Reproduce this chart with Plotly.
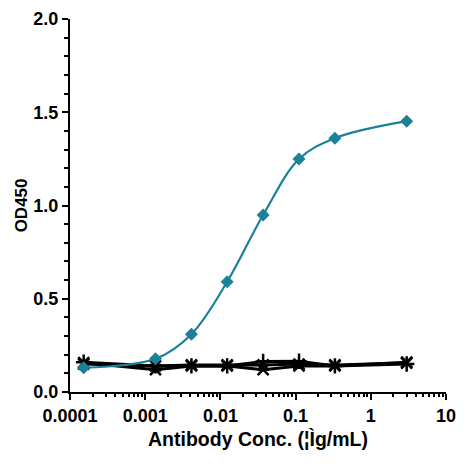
import plotly.graph_objects as go

conc = [0.000152, 0.00137, 0.00412, 0.0123, 0.037, 0.111, 0.333, 3.0]
od_target = [0.130, 0.178, 0.310, 0.591, 0.949, 1.249, 1.361, 1.452]
od_ctrl_x = [0.157, 0.120, 0.140, 0.140, 0.120, 0.140, 0.140, 0.160]
od_ctrl_plus = [0.160, 0.140, 0.140, 0.140, 0.164, 0.165, 0.140, 0.150]
od_ctrl_b = [0.150, 0.140, 0.145, 0.145, 0.145, 0.150, 0.145, 0.155]

x_tickvals = [0.0001, 0.001, 0.01, 0.1, 1, 10]
x_ticktext = ["0.0001", "0.001", "0.01", "0.1", "1", "10"]
y_tickvals = [0.0, 0.5, 1.0, 1.5, 2.0]
y_ticktext = ["0.0", "0.5", "1.0", "1.5", "2.0"]

teal = "#1A8198"
font_fam = "Liberation Sans, Arial, sans-serif"

fig = go.Figure()
for vals, sym in [(od_ctrl_b, "x-thin"), (od_ctrl_plus, "cross-thin"), (od_ctrl_x, "x-thin")]:
    fig.add_trace(go.Scatter(
        x=conc, y=vals, mode="lines+markers",
        line=dict(color="black", width=3),
        marker=dict(symbol=sym, size=11, color="black", line=dict(color="black", width=2.5)),
        showlegend=False, cliponaxis=False))

fig.add_trace(go.Scatter(
    x=conc, y=od_target, mode="lines+markers",
    line=dict(color=teal, width=2.2, shape="spline", smoothing=1.0),
    marker=dict(symbol="diamond", size=10, color=teal),
    showlegend=False, cliponaxis=False))

minor_x = [m * 10 ** k for k in range(-4, 1) for m in range(2, 10)]

fig.update_layout(
    width=466, height=474,
    margin=dict(l=62, r=28, t=11, b=90),
    paper_bgcolor="white", plot_bgcolor="white",
    font=dict(family=font_fam, color="black"),
    xaxis=dict(
        type="log", range=[-4, 1], automargin=False,
        tickmode="array", tickvals=x_tickvals, ticktext=["<b>%s</b>" % t for t in x_ticktext],
        ticks="outside", ticklen=6, tickwidth=2, tickcolor="black",
        showline=True, linecolor="black", linewidth=2,
        showgrid=False, zeroline=False,
        tickfont=dict(size=18, family=font_fam),
        minor=dict(tickmode="array", tickvals=minor_x, ticks="outside", ticklen=3, tickwidth=1.5, tickcolor="black", showgrid=False),
        title=dict(text="<b>Antibody Conc. (¦Ìg/mL)</b>", font=dict(size=19.5, family=font_fam), standoff=8),
    ),
    yaxis=dict(
        range=[0, 2.0], automargin=False,
        tickmode="array", tickvals=y_tickvals, ticktext=["<b>%s</b>" % t for t in y_ticktext],
        ticks="outside", ticklen=6, tickwidth=2, tickcolor="black",
        showline=True, linecolor="black", linewidth=2,
        showgrid=False, zeroline=False,
        tickfont=dict(size=18, family=font_fam),
        minor=dict(dtick=0.1, ticks="outside", ticklen=4, tickwidth=1.5, tickcolor="black", showgrid=False),
    ),
    annotations=[dict(
        text="<b>OD450</b>", textangle=-90, showarrow=False,
        xref="paper", yref="paper", x=-0.128, y=0.5, xanchor="center", yanchor="middle",
        font=dict(size=17, family=font_fam, color="black"),
    )],
)

fig.write_html("out.html")
